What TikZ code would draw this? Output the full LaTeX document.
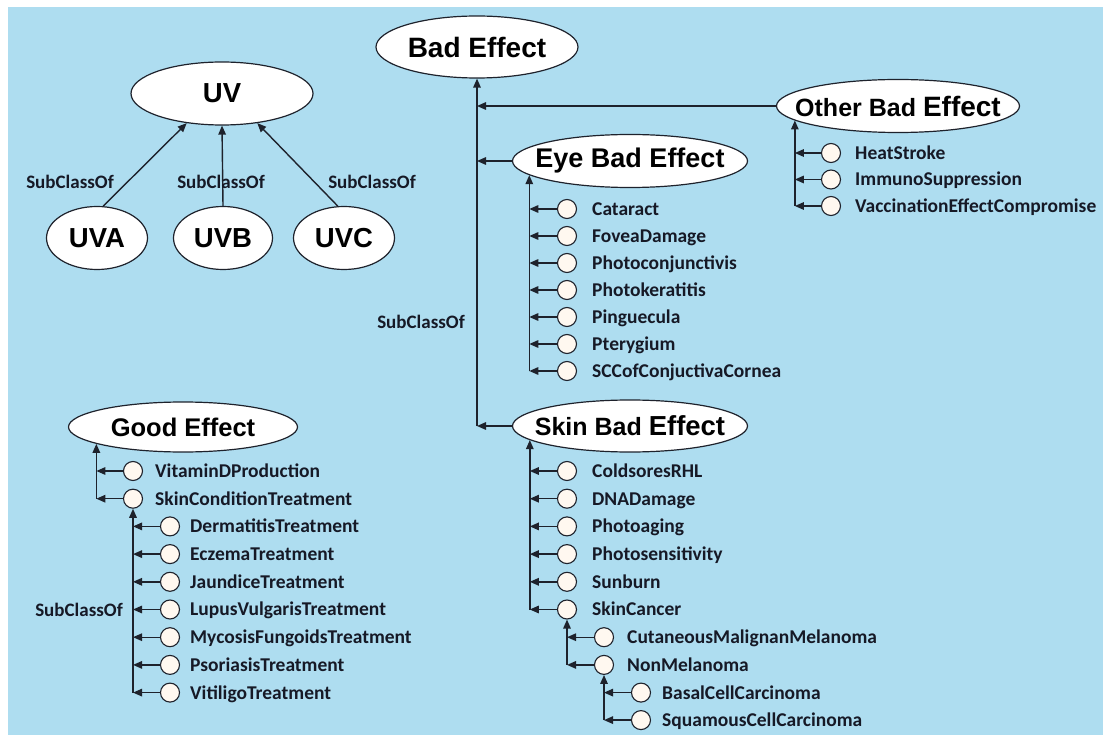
\documentclass[tikz,border=0pt]{standalone}
\usepackage{fontspec}
\setmainfont{Liberation Sans}
\newfontfamily\lblfont{Carlito}
\usetikzlibrary{arrows.meta,calc,shapes.geometric}
\definecolor{sky}{RGB}{174,221,240}
\definecolor{edge}{RGB}{30,34,44}
\definecolor{ink}{RGB}{22,25,38}
\definecolor{cream}{RGB}{255,248,240}
\begin{document}
\begin{tikzpicture}[x=1pt,y=-1pt,
  ell/.style={ellipse, draw=edge, line width=1.2pt, fill=white, inner sep=0pt},
  ttl/.style={font=\bfseries\fontsize{#1}{#1}\selectfont, text=black, inner sep=0pt},
  dot/.style={circle, draw=edge, line width=1.1pt, fill=cream, minimum size=19pt, inner sep=0pt},
  lbl/.style={anchor=base west, inner sep=0pt, font=\lblfont\bfseries\fontsize{19.5}{21}\selectfont, text=ink},
  rel/.style={font=\lblfont\bfseries\fontsize{19}{21}\selectfont, text=ink, inner sep=0pt},
  arr/.style={draw=edge, line width=1.4pt, -{Triangle[length=9pt,width=7.5pt]}},
]
% page and panel
\useasboundingbox (0,0) rectangle (1103,735);
\fill[white] (0,0) rectangle (1103,735);
\fill[sky] (8,7) rectangle (1103,735);

% ---- UV family ----
\node[ell, minimum width=182pt, minimum height=63pt, label={[ttl=27.5, name=uv-t]center:UV}] (uv) at (222,93.5) {};
\node[ell, minimum width=101pt, minimum height=63pt, label={[ttl=27.5, name=uva-t]center:UVA}] (uva) at (97,238) {};
\node[ell, minimum width=99pt, minimum height=63pt, label={[ttl=27.5, name=uvb-t]center:UVB}] (uvb) at (223,238) {};
\node[ell, minimum width=101pt, minimum height=63pt, label={[ttl=27.5, name=uvc-t]center:UVC}] (uvc) at (344,238) {};
\draw[arr] (uva.79) -- (uv.220);
\draw[arr] (uvb.north) -- (uv.south);
\draw[arr] (uvc.101) -- (uv.320);
\node[rel] (sc-a) at (70,182) {SubClassOf};
\node[rel] (sc-b) at (221,182) {SubClassOf};
\node[rel] (sc-c) at (372,182) {SubClassOf};

% ---- Bad effects ----
\node[ell, minimum width=202pt, minimum height=62pt, label={[ttl=28, name=bad-t]center:Bad Effect}] (bad) at (477,47) {};
\node[ell, minimum width=243pt, minimum height=53pt,
      label={[ttl=25, name=other-t]center:Other Bad {\fontsize{28}{28}\selectfont Effect}}] (other) at (898,106) {};
\node[ell, minimum width=235pt, minimum height=53pt, label={[ttl=27, name=eye-t]center:Eye Bad Effect}] (eye) at (630,161) {};
\node[ell, minimum width=235pt, minimum height=52pt,
      label={[ttl=25, name=skin-t]center:Skin Bad {\fontsize{27.5}{28}\selectfont Effect}}] (skin) at (630,426) {};

\draw[arr] (skin.west -| bad.south) -- (bad.south);
\draw[arr] (other.west) -- (other.west -| bad.south);
\draw[arr] (eye.west) -- (eye.west -| bad.south);
\draw[arr] (skin.west) -- (skin.west -| bad.south);
\node[rel] (sc-bad) at (421,322) {SubClassOf};

% other bad effects
\foreach \n/\t [count=\k from 0] in {o1/HeatStroke, o2/ImmunoSuppression, o3/VaccinationEffectCompromise} {
  \node[dot] (\n) at (831,153+26.5*\k) {};
  \node[lbl] (\n-t) at ($(\n.center)+(24,6.4)$) {\t};
  \draw[arr] (\n.west) -- (\n.west -| other.188);
}
\draw[arr] (o3.west -| other.188) -- (other.188);

% eye bad effects
\foreach \n/\t [count=\k from 0] in {e1/Cataract, e2/FoveaDamage, e3/Photoconjunctivis, e4/Photokeratitis,
    e5/Pinguecula, e6/Pterygium, e7/SCCofConjuctivaCornea} {
  \node[dot] (\n) at (567,209+27*\k) {};
  \node[lbl] (\n-t) at ($(\n.center)+(25,6.4)$) {\t};
  \draw[arr] (\n.west) -- (\n.west -| eye.188);
}
\draw[arr] (e7.west -| eye.188) -- (eye.188);

% skin bad effects
\foreach \n/\t [count=\k from 0] in {s1/ColdsoresRHL, s2/DNADamage, s3/Photoaging, s4/Photosensitivity,
    s5/Sunburn, s6/SkinCancer} {
  \node[dot] (\n) at (567,471+27.7*\k) {};
  \node[lbl] (\n-t) at ($(\n.center)+(25,6.4)$) {\t};
  \draw[arr] (\n.west) -- (\n.west -| skin.188);
}
\draw[arr] (s6.west -| skin.188) -- (skin.188);

% skin cancer kinds
\foreach \n/\t [count=\k from 0] in {k1/CutaneousMalignanMelanoma, k2/NonMelanoma} {
  \node[dot] (\n) at (604,637.2+27.7*\k) {};
  \node[lbl] (\n-t) at ($(\n.center)+(23,6.4)$) {\t};
  \draw[arr] (\n.west) -- (\n.west -| s6.south);
}
\draw[arr] (k2.west -| s6.south) -- (s6.south);

% non-melanoma kinds
\foreach \n/\t [count=\k from 0] in {m1/BasalCellCarcinoma, m2/SquamousCellCarcinoma} {
  \node[dot] (\n) at (641,692.6+27.5*\k) {};
  \node[lbl] (\n-t) at ($(\n.center)+(21,6.4)$) {\t};
  \draw[arr] (\n.west) -- (\n.west -| k2.south);
}
\draw[arr] (m2.west -| k2.south) -- (k2.south);

% ---- Good effects ----
\node[ell, minimum width=229pt, minimum height=50pt, label={[ttl=25.5, name=good-t]center:Good Effect}] (good) at (183,427) {};
\foreach \n/\t [count=\k from 0] in {g1/VitaminDProduction, g2/SkinConditionTreatment} {
  \node[dot] (\n) at (133,471+27.7*\k) {};
  \node[lbl] (\n-t) at ($(\n.center)+(22,6.4)$) {\t};
  \draw[arr] (\n.west) -- (\n.west -| good.191);
}
\draw[arr] (g2.west -| good.191) -- (good.191);

\foreach \n/\t [count=\k from 0] in {t1/DermatitisTreatment, t2/EczemaTreatment, t3/JaundiceTreatment,
    t4/LupusVulgarisTreatment, t5/MycosisFungoidsTreatment, t6/PsoriasisTreatment, t7/VitiligoTreatment} {
  \node[dot] (\n) at (170,526.4+27.7*\k) {};
  \node[lbl] (\n-t) at ($(\n.center)+(20,6.4)$) {\t};
  \draw[arr] (\n.west) -- (\n.west -| g2.south);
}
\draw[arr] (t7.west -| g2.south) -- (g2.south);
\node[rel] (sc-good) at (79,610) {SubClassOf};
\end{tikzpicture}
\end{document}
